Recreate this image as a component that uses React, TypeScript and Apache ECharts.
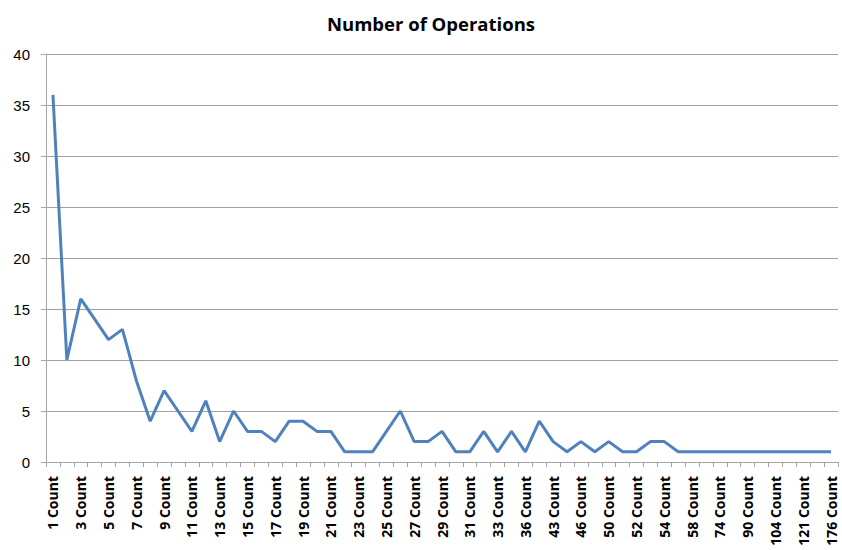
import React, { useEffect, useRef } from "react";
import * as echarts from "echarts";

const categories: string[] = [
  "1 Count", "2 Count", "3 Count", "4 Count", "5 Count", "6 Count", "7 Count", "8 Count",
  "9 Count", "10 Count", "11 Count", "12 Count", "13 Count", "14 Count", "15 Count", "16 Count",
  "17 Count", "18 Count", "19 Count", "20 Count", "21 Count", "22 Count", "23 Count", "24 Count",
  "25 Count", "26 Count", "27 Count", "28 Count", "29 Count", "30 Count", "31 Count", "32 Count",
  "33 Count", "34 Count", "36 Count", "38 Count", "43 Count", "44 Count", "46 Count", "48 Count",
  "50 Count", "51 Count", "52 Count", "53 Count", "54 Count", "56 Count", "58 Count", "65 Count",
  "74 Count", "82 Count", "90 Count", "97 Count", "104 Count", "112 Count", "121 Count", "145 Count",
  "176 Count",
];

const operations: number[] = [
  36, 10, 16, 14, 12, 13, 8, 4, 7, 5, 3, 6, 2, 5, 3, 3,
  2, 4, 4, 3, 3, 1, 1, 1, 3, 5, 2, 2, 3, 1, 1, 3,
  1, 3, 1, 4, 2, 1, 2, 1, 2, 1, 1, 2, 2, 1, 1, 1,
  1, 1, 1, 1, 1, 1, 1, 1, 1,
];

const titleText = "Number of Operations";

export default function App() {
  const ref = useRef<HTMLDivElement>(null);
  useEffect(() => {
    if (!ref.current) return;
    const chart = echarts.init(ref.current, undefined, { renderer: "svg" });
    chart.setOption({
      animation: false,
      backgroundColor: "#ffffff",
      title: {
        text: titleText,
        left: 426,
        top: 9,
        textAlign: "center",
        textStyle: {
          fontFamily: "Open Sans",
          fontWeight: "bold",
          fontSize: 18.5,
          color: "#000000",
        },
      },
      grid: { left: 46, right: 4, top: 54, bottom: 88, containLabel: false },
      xAxis: {
        type: "category",
        data: categories,
        boundaryGap: true,
        axisLine: { show: true, lineStyle: { color: "#a6a6a6", width: 1 } },
        axisTick: { show: true, interval: 0, length: 5, lineStyle: { color: "#a6a6a6" } },
        axisLabel: {
          interval: 1,
          rotate: 90,
          margin: 14,
          fontFamily: "Open Sans",
          fontWeight: "bold",
          fontSize: 14,
          color: "#000000",
        },
        splitLine: { show: false },
      },
      yAxis: {
        type: "value",
        min: 0,
        max: 40,
        interval: 5,
        axisLine: { show: true, lineStyle: { color: "#a6a6a6", width: 1 } },
        axisTick: { show: true, length: 5, lineStyle: { color: "#a6a6a6" } },
        axisLabel: {
          margin: 16,
          fontFamily: "Liberation Sans",
          fontSize: 15,
          color: "#000000",
        },
        splitLine: { show: true, lineStyle: { color: "#a0a0a0", width: 1 } },
      },
      series: [
        {
          type: "line",
          data: operations,
          symbol: "none",
          lineStyle: { color: "#4f81bd", width: 3 },
          itemStyle: { color: "#4f81bd" },
        },
      ],
    });
    return () => chart.dispose();
  }, []);
  return <div ref={ref} style={{ width: 842, height: 550, position: "absolute", left: 0, top: 0 }} />;
}
